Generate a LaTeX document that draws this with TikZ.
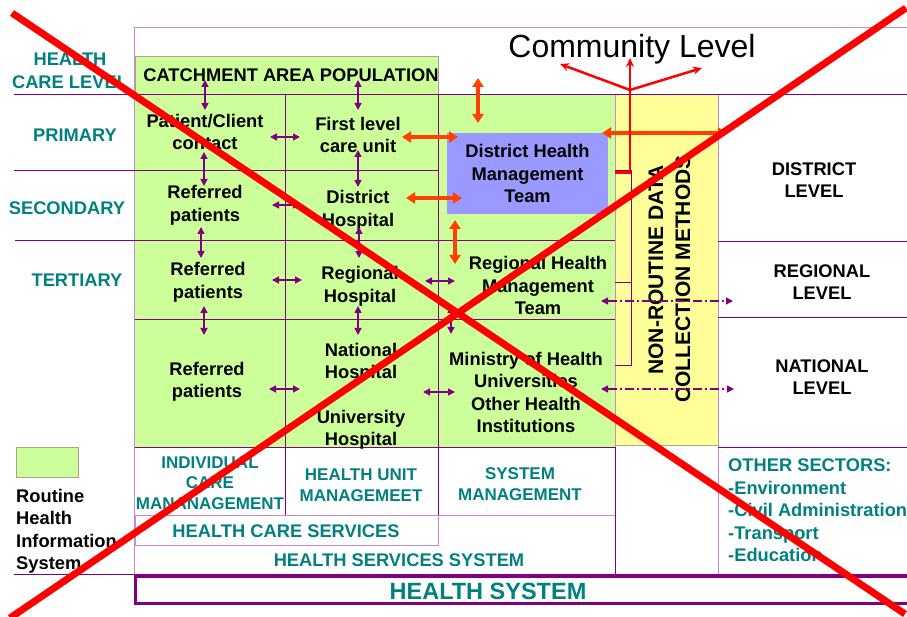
\documentclass[tikz,border=0pt]{standalone}
\usepackage{fontspec}
\setmainfont{Liberation Sans}
\usetikzlibrary{arrows.meta}
\definecolor{cgreen}{HTML}{CCFF99}
\definecolor{cyellow}{HTML}{FFFF99}
\definecolor{cblue}{HTML}{9999FF}
\definecolor{cteal}{HTML}{008080}
\definecolor{cpurple}{HTML}{800080}
\definecolor{clav}{HTML}{CC88CC}
\definecolor{corange}{HTML}{FF4000}
\definecolor{ctan}{HTML}{B0A090}
\begin{document}
\begin{tikzpicture}[x=1pt,y=-1pt,
  bk/.style={font=\fontsize{18.3}{22.5}\selectfont\bfseries, align=center, inner sep=0pt, text=black},
  tl/.style={bk, text=cteal},
  tls/.style={font=\fontsize{17}{20.5}\selectfont\bfseries, align=center, inner sep=0pt, text=cteal},
  grid/.style={cpurple, line width=1pt},
  lav/.style={clav, line width=1pt},
  pa/.style={cpurple, line width=1.5pt, {Triangle[length=7pt,width=7pt]}-{Triangle[length=7pt,width=7pt]}},
  da/.style={pa, dash pattern=on 9pt off 3pt on 2pt off 3pt},
  oa/.style={corange, line width=4pt, {Triangle[length=9pt,width=11pt]}-{Triangle[length=9pt,width=11pt]}},
  ra/.style={red, line width=2.5pt, -{Stealth[length=9pt,width=8pt]}},
  cross/.style={red, line width=7pt}]
\useasboundingbox (0,0) rectangle (907,617);
% fills
\fill[cgreen] (135,95) rectangle (615,447);
\fill[cyellow] (615,95) rectangle (718,445);
\draw[ctan, fill=cgreen] (135,56) rectangle (438,94);
\draw[ctan, fill=cgreen] (16,447) rectangle (78,477);
% frame
\draw[lav] (134,28) -- (907,28);
\draw[lav] (134,28) -- (134,575);
% grid lines
\draw[grid] (14,95) -- (907,95);
\draw[grid] (14,171) -- (438,171);
\draw[grid] (15,241) -- (615,241);
\draw[grid] (135,320) -- (615,320);
\draw[grid] (135,447) -- (615,447);
\draw[grid] (285,95) -- (285,515);
\draw[grid] (438,95) -- (438,515);
\draw[lav] (615,95) -- (615,447);
\draw[grid] (615,447) -- (615,574);
\draw[lav] (718,95) -- (718,575);
\draw[grid] (718,242) -- (907,242);
\draw[grid] (718,318) -- (907,318);
\draw[grid] (718,447) -- (907,447);
\draw[ctan] (615,445) -- (718,445);
\draw[lav] (135,515) rectangle (438,545);
\draw[lav] (438,515) -- (615,515);
\draw[grid] (14,574) -- (907,574);
\draw[cpurple, line width=3pt] (135,576) rectangle (912,603.5);
% bracket in yellow column
\draw[grid] (615,171) -- (631,171) -- (631,365) -- (615,365);
\draw[grid] (615,283) -- (631,283);
% DHMT box
\node[fill=cblue, minimum width=161pt, minimum height=81pt, bk] (dhmt) at (527.5,173.5) {District Health\\Management\\Team};
% texts left
\node[tl] (hcl) at (70,71) {HEALTH\\CARE LEVEL};
\node[tl] (prim) at (75,135) {PRIMARY};
\node[tl] (sec) at (67,208) {SECONDARY};
\node[tl] (ter) at (77,280) {TERTIARY};
\node[bk, align=left, anchor=north west] (rhis) at (16,489) {Routine\\Health\\Information\\System};
% cell texts
\node[bk] (catch) at (291,75) {CATCHMENT AREA POPULATION};
\node[bk] (pcc) at (205,132) {Patient/Client\\contact};
\node[bk] (flc) at (358,135) {First level\\care unit};
\node[bk] (ref1) at (205,205.5) {Referred\\patients};
\node[bk] (dhos) at (358,210.5) {District\\Hospital};
\node[bk] (ref2) at (208,282.5) {Referred\\patients};
\node[bk] (rhos) at (360,286.5) {Regional\\Hospital};
\node[bk] (rhmt) at (538,285.5) {Regional Health\\Management\\Team};
\node[bk] (ref3) at (207,382) {Referred\\patients};
\node[bk] (nhos) at (361,363) {National\\Hospital};
\node[bk] (uhos) at (361,430) {University\\Hospital};
\node[bk] (moh) at (526,392.5) {Ministry of Health\\Universities\\Other Health\\Institutions};
\node[bk, rotate=90, font=\fontsize{21}{25}\selectfont\bfseries] (nrd) at (656,270) {NON-ROUTINE DATA};
\node[bk, rotate=90, font=\fontsize{21}{25}\selectfont\bfseries] (cm) at (683,279) {COLLECTION METHODS};
\node[bk] (dl) at (814,180) {DISTRICT\\LEVEL};
\node[bk] (rl) at (822,282) {REGIONAL\\LEVEL};
\node[bk] (nl) at (822,377) {NATIONAL\\LEVEL};
\node[font=\fontsize{32}{36}\selectfont, inner sep=0pt, anchor=base] (comm) at (632,58) {Community Level};
% bottom teal
\node[tls] (icm) at (210,483) {INDIVIDUAL\\CARE\\MANANAGEMENT};
\node[tls] (hum) at (361,485) {HEALTH UNIT\\MANAGEMEET};
\node[tls] (sm) at (520,484) {SYSTEM\\MANAGEMENT};
\node[tl] (hcs) at (286,531) {HEALTH CARE SERVICES};
\node[tl] (hss) at (399,560) {HEALTH SERVICES SYSTEM};
\node[font=\fontsize{23.5}{28}\selectfont\bfseries, text=cteal, inner sep=0pt] (hs) at (488,591) {HEALTH SYSTEM};
\node[tl, align=left, anchor=north west] (os) at (728,459) {OTHER SECTORS:\\-Environment\\-Civil Administration\\-Transport\\-Education};
% purple vertical arrows
\draw[pa] (205,80) -- (205,110);
\draw[pa] (358,80) -- (358,110);
\draw[pa] (204,152) -- (204,186);
\draw[pa] (358,150) -- (358,187);
\draw[pa] (201,227) -- (201,258);
\draw[pa] (359,227) -- (359,258);
\draw[pa] (204,306) -- (204,335);
\draw[pa] (358,306) -- (358,335);
\draw[pa] (451,306) -- (451,334);
% purple horizontal arrows
\draw[pa] (270,137) -- (300,137);
\draw[pa] (272,205) -- (300,205);
\draw[pa] (272,280) -- (302,280);
\draw[pa] (425,281) -- (455,281);
\draw[pa] (269,389) -- (300,389);
\draw[pa] (423,392) -- (455,392);
% dash-dot
\draw[da] (601,301) -- (733,301);
\draw[da] (601,389) -- (734,389);
% orange arrows
\draw[oa] (478,78) -- (478,123);
\draw[oa] (402,137) -- (458,137);
\draw[oa] (406,198) -- (462,198);
\draw[oa] (455,220) -- (455,264);
\draw[oa] (602,133) -- (727,133);
% community level arrows
\coordinate (hub) at (630,90);
\draw[red, line width=3pt] (615,173) -- (631,173);
\draw[red, line width=2.5pt] (630,174.5) -- (hub);
\draw[ra] (hub) -- (630,58);
\draw[ra] (hub) -- (560,64);
\draw[ra] (hub) -- (702,68);
% red cross
\draw[cross] (12,13) -- (905,614);
\draw[cross] (906,8) -- (10,618);
\end{tikzpicture}
\end{document}
